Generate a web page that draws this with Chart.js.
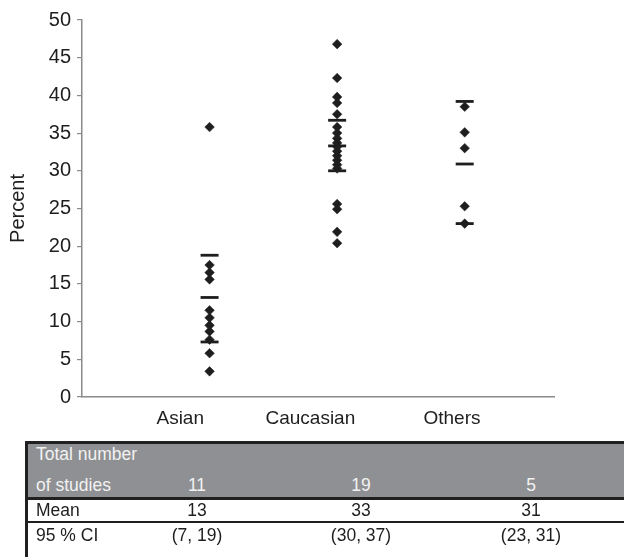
<!DOCTYPE html>
<html>
<head>
<meta charset="utf-8">
<script src="https://cdn.jsdelivr.net/npm/chart.js@4/dist/chart.umd.min.js"></script>
<style>
  html, body { margin: 0; padding: 0; background: #fff; }
  body { width: 624px; height: 557px; position: relative; overflow: hidden; font-family: "Liberation Sans", Arial, sans-serif; color: #1e1e1e; }
  #wrap { position: absolute; left: 0; top: 0; width: 624px; height: 440px; }
  #tbl { position: absolute; left: 0; top: 0; width: 624px; height: 557px; pointer-events: none; }
  .cell { position: absolute; height: 22px; line-height: 22px; font-size: 17.5px; white-space: nowrap; }
  .ctr { transform: translateX(-50%); }
</style>
</head>
<body>
<div id="wrap"><canvas id="c" width="624" height="440"></canvas></div>
<div id="tbl"></div>
<script>
// ---- data ----
const categories = ['Asian', 'Caucasian', 'Others'];
const asianValues = [35.8, 17.5, 16.5, 15.6, 11.5, 10.5, 9.5, 8.7, 7.6, 5.8, 3.4];
const caucasianValues = [46.8, 42.3, 39.8, 39.0, 37.5, 35.8, 35.0, 34.3, 33.7, 33.2, 32.6, 32.0, 31.4, 30.8, 30.3, 25.6, 24.9, 21.9, 20.4];
const othersValues = [38.5, 35.1, 33.0, 25.3, 23.0];
const upperBars = [18.8, 36.7, 39.2];
const meanBars = [13.2, 33.3, 30.9];
const lowerBars = [7.3, 30.0, 23.0];
const yTicks = [0, 5, 10, 15, 20, 25, 30, 35, 40, 45, 50];
const tableRowLabels = ['Mean', '95 % CI'];
const studyCounts = ['11', '19', '5'];
const meanLabels = ['13', '33', '31'];
const ciLabels = ['(7, 19)', '(30, 37)', '(23, 31)'];

const groups = [asianValues, caucasianValues, othersValues];
const pts = [];
groups.forEach((g, i) => g.forEach(v => pts.push({ x: i + 1, y: v })));
const bars = [];
[upperBars, meanBars, lowerBars].forEach(arr => arr.forEach((v, i) => bars.push({ x: i + 1, y: v })));

const labelPos = [0.77, 1.79, 2.9];
const FONT = '"Liberation Sans", Arial, sans-serif';
const INK = '#1e1e1e';
const AXIS = '#8a8a8a';

new Chart(document.getElementById('c'), {
  type: 'scatter',
  data: {
    datasets: [
      { data: pts, pointStyle: 'rectRot', pointRadius: 4.8, backgroundColor: INK, borderColor: INK, borderWidth: 0.5, order: 2 },
      { data: bars, pointStyle: 'line', pointRadius: 9, borderColor: INK, borderWidth: 2.8, order: 1 }
    ]
  },
  options: {
    responsive: false,
    animation: false,
    layout: { padding: { left: 0, right: 70, top: 20, bottom: 0 } },
    plugins: { legend: { display: false }, tooltip: { enabled: false } },
    scales: {
      x: {
        type: 'linear', min: 0, max: 3.7,
        grid: { display: false },
        border: { display: true, color: AXIS, width: 1.5 },
        afterBuildTicks: s => { s.ticks = labelPos.map(v => ({ value: v })); },
        afterFit: s => { s.height = 43; },
        ticks: {
          padding: 2, color: INK, font: { family: FONT, size: 19 },
          autoSkip: false, maxRotation: 0,
          callback: (v, i) => categories[i]
        }
      },
      y: {
        min: 0, max: 50,
        afterBuildTicks: s => { s.ticks = yTicks.map(v => ({ value: v })); },
        afterFit: s => { s.width = 82; },
        grid: { drawOnChartArea: false, drawTicks: true, tickLength: 5, color: AXIS, lineWidth: 1.2 },
        border: { display: true, color: AXIS, width: 1.5 },
        ticks: { padding: 6, color: INK, font: { family: FONT, size: 20 } },
        title: { display: true, text: 'Percent', color: INK, font: { family: FONT, size: 20 }, padding: { top: 6, bottom: 0 } }
      }
    }
  }
});

// ---- table below the chart ----
const tbl = document.getElementById('tbl');
function box(l, t, w, h, bg) {
  const d = document.createElement('div');
  d.style.cssText = `position:absolute;left:${l}px;top:${t}px;width:${w}px;height:${h}px;background:${bg}`;
  tbl.appendChild(d);
}
function txt(s, x, cy, center, color) {
  const d = document.createElement('div');
  d.className = 'cell' + (center ? ' ctr' : '');
  d.style.left = x + 'px';
  d.style.top = (cy - 11) + 'px';
  d.style.color = color || INK;
  d.textContent = s;
  tbl.appendChild(d);
}
const colX = [197, 361, 531];
box(26, 443, 598, 55, '#8f9093');
box(26, 441, 598, 3, '#202020');
box(26, 497, 598, 3, '#202020');
box(26, 521, 598, 2, '#202020');
box(25, 441, 3, 116, '#202020');
txt('Total number', 36, 454, false, '#f2f2f2');
txt('of studies', 36, 485, false, '#f2f2f2');
studyCounts.forEach((s, i) => txt(s, colX[i], 485, true, '#f2f2f2'));
txt(tableRowLabels[0], 36, 510);
meanLabels.forEach((s, i) => txt(s, colX[i], 510, true));
txt(tableRowLabels[1], 36, 535);
ciLabels.forEach((s, i) => txt(s, colX[i], 535, true));
</script>
</body>
</html>
